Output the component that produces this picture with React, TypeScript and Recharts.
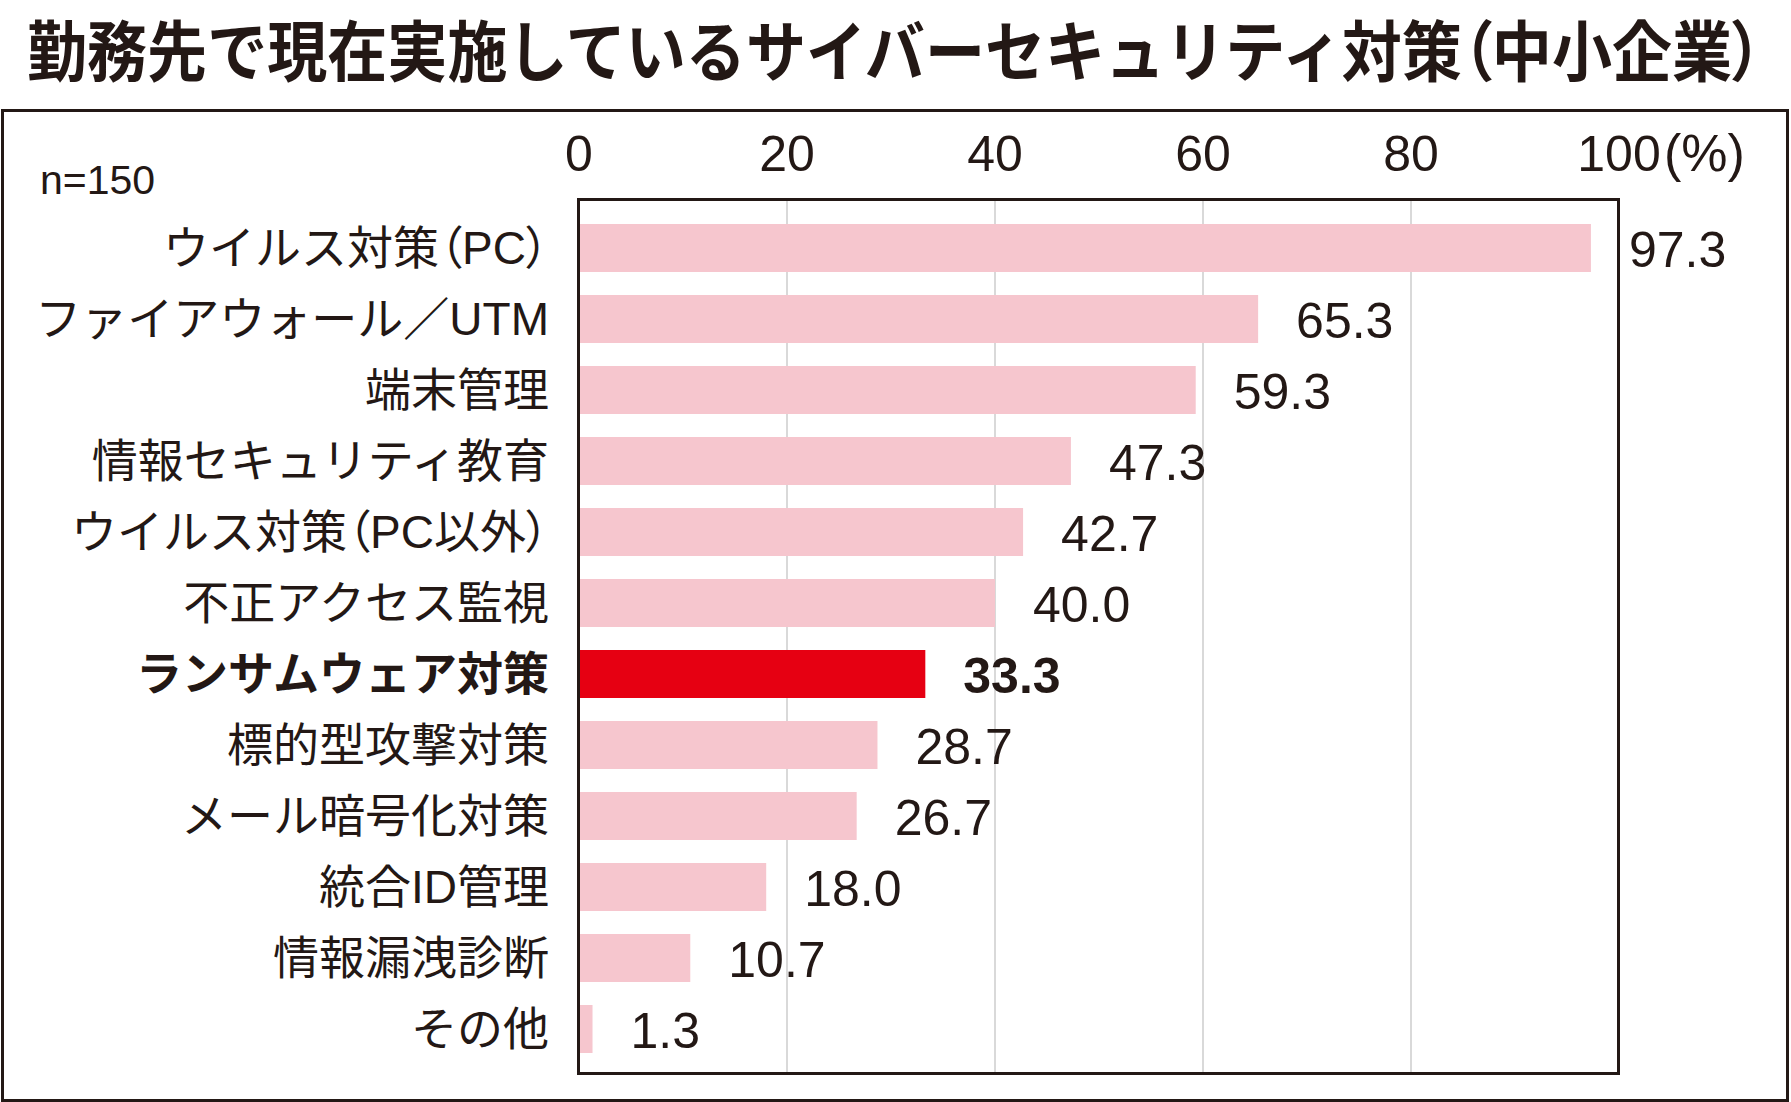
import React from 'react';
import { BarChart, Bar, XAxis, YAxis, CartesianGrid, Cell, LabelList } from 'recharts';

const categories = [
  'ウイルス対策（PC）',
  'ファイアウォール／UTM',
  '端末管理',
  '情報セキュリティ教育',
  'ウイルス対策（PC以外）',
  '不正アクセス監視',
  'ランサムウェア対策',
  '標的型攻撃対策',
  'メール暗号化対策',
  '統合ID管理',
  '情報漏洩診断',
  'その他',
];
const shares = [97.3, 65.3, 59.3, 47.3, 42.7, 40.0, 33.3, 28.7, 26.7, 18.0, 10.7, 1.3];
const xTicks = [0, 20, 40, 60, 80, 100];
const highlight = 'ランサムウェア対策';
const title = '勤務先で現在実施しているサイバーセキュリティ対策（中小企業）';

const INK = '#231815';
const PINK = '#F6C6CE';
const RED = '#E60012';
const FONT = '"Liberation Sans", "Noto Sans CJK JP", sans-serif';
const PALT = { fontFeatureSettings: '"palt"' };

const data = categories.map((name, i) => ({ name, value: shares[i] }));

// full-width brackets are set half-width, as in the printed chart
const splitParens = (s: string) => s.split(/([（）])/).filter((p) => p !== '');

const TopTick = (props: any) => {
  const { x, y, payload } = props;
  return (
    <g>
      <text x={x} y={y} textAnchor="middle" fontSize={50} fill={INK} fontFamily={FONT}>
        {payload.value}
      </text>
      {payload.value === 100 && (
        <text x={x + 45} y={y} textAnchor="start" fontSize={52} fill={INK} fontFamily={FONT}>
          (%)
        </text>
      )}
    </g>
  );
};

const NameTick = (props: any) => {
  const { x, y, payload } = props;
  const bold = payload.value === highlight;
  return (
    <text
      x={x}
      y={y}
      textAnchor="end"
      dominantBaseline="central"
      fontSize={46}
      fontWeight={bold ? 700 : 400}
      fill={INK}
      fontFamily={FONT}
    >
      {splitParens(String(payload.value)).map((p, i) =>
        p === '（' || p === '）' ? (
          <tspan key={i} style={PALT}>
            {p}
          </tspan>
        ) : (
          <tspan key={i}>{p}</tspan>
        )
      )}
    </text>
  );
};

const ValueLabel = (props: any) => {
  const { x, y, width, height, value, index } = props;
  const bold = categories[index] === highlight;
  return (
    <text
      x={x + width + 38}
      y={y + height / 2 + 19}
      fontSize={50}
      fontWeight={bold ? 700 : 400}
      fill={INK}
      fontFamily={FONT}
    >
      {Number(value).toFixed(1)}
    </text>
  );
};

export default function App() {
  return (
    <div style={{ position: 'absolute', left: 0, top: 0, width: 1791, height: 1102, background: '#fff' }}>
      <div
        style={{
          position: 'absolute',
          left: 27,
          top: 14,
          fontSize: 66,
          lineHeight: '66px',
          fontWeight: 700,
          color: INK,
          fontFamily: '"Noto Sans CJK JP", sans-serif',
          whiteSpace: 'nowrap',
          transform: 'scaleX(0.91)',
          transformOrigin: 'left top',
        }}
      >
        {splitParens(title).map((p, i) =>
          p === '（' || p === '）' ? (
            <span key={i} style={PALT}>
              {p}
            </span>
          ) : (
            <span key={i}>{p}</span>
          )
        )}
      </div>
      <div
        style={{
          position: 'absolute',
          left: 1,
          top: 109,
          width: 1788,
          height: 993,
          boxSizing: 'border-box',
          border: `3px solid ${INK}`,
        }}
      />
      <div
        style={{
          position: 'absolute',
          left: 40,
          top: 160,
          fontSize: 41,
          lineHeight: '41px',
          color: INK,
          fontFamily: FONT,
        }}
      >
        n=150
      </div>
      <div style={{ position: 'absolute', left: 0, top: 0 }}>
        <BarChart
          width={1791}
          height={1102}
          data={data}
          layout="vertical"
          margin={{ top: 140, right: 172, bottom: 28, left: 0 }}
          barCategoryGap={0}
        >
          <CartesianGrid horizontal={false} stroke="#d9d9d9" strokeWidth={2} />
          <XAxis
            type="number"
            orientation="top"
            domain={[0, 100]}
            ticks={xTicks}
            height={60}
            axisLine={false}
            tickLine={false}
            tickSize={0}
            tickMargin={29}
            tick={<TopTick />}
            interval={0}
          />
          <YAxis
            type="category"
            dataKey="name"
            width={579}
            axisLine={false}
            tickLine={false}
            tickSize={0}
            tickMargin={30}
            tick={<NameTick />}
            interval={0}
            padding={{ top: 12, bottom: 10 }}
          />
          <Bar dataKey="value" barSize={48} isAnimationActive={false}>
            {data.map((d) => (
              <Cell key={d.name} fill={d.name === highlight ? RED : PINK} />
            ))}
            <LabelList dataKey="value" content={<ValueLabel />} />
          </Bar>
        </BarChart>
      </div>
      <div
        style={{
          position: 'absolute',
          left: 577,
          top: 198,
          width: 1043,
          height: 877,
          boxSizing: 'border-box',
          border: `3px solid ${INK}`,
          pointerEvents: 'none',
        }}
      />
    </div>
  );
}
